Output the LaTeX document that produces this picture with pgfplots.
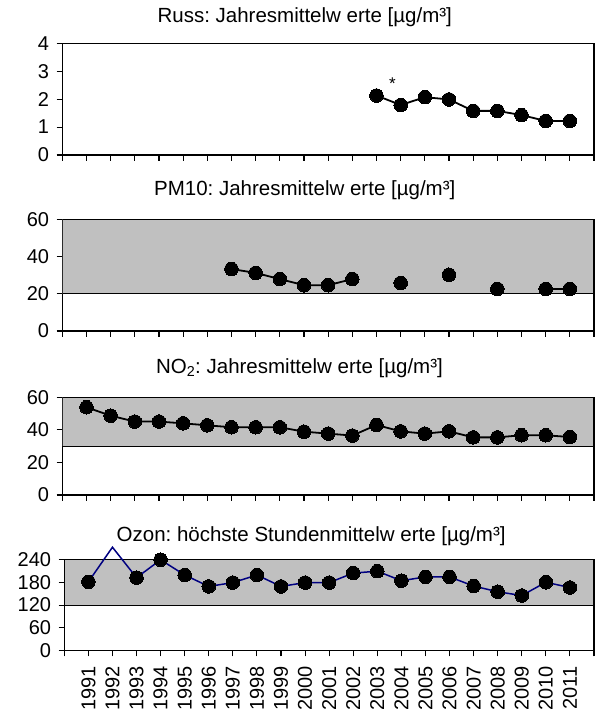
\documentclass[border=0pt]{standalone}
\usepackage{fontspec}
\setmainfont{Liberation Sans}
\usepackage{pgfplots}
\pgfplotsset{compat=1.18}
\frenchspacing
\definecolor{band}{RGB}{192,192,192}
\definecolor{ozline}{RGB}{0,0,128}
\newcommand{\tfont}{\fontsize{20}{22}\selectfont}
\newcommand{\xfont}{\fontsize{20}{22}\selectfont}
\newcommand{\hfont}{\fontsize{20.5}{23}\selectfont\frenchspacing}
\pgfplotsset{
  panel/.style={
    scale only axis, width=531.7pt, anchor=south west,
    xmin=0, xmax=22, xtick={0,...,22}, xticklabels={},
    tick align=outside, xtick pos=bottom, ytick pos=left,
    major tick length=5.7pt,
    axis line style={line width=1.1pt, black},
    tick style={line width=1.1pt, black},
    /pgf/number format/assume math mode=true,
    yticklabel style={font=\tfont, xshift=-4pt},
    title style={font=\hfont, anchor=base},
    axis on top=false,
  },
  dots/.style={black, line width=1.8pt, mark=*, mark size=6.8pt, mark options={solid, fill=black, line width=0pt}},
}
\begin{document}
\begin{tikzpicture}
\path[use as bounding box] (0pt,-711pt) rectangle (595pt,0pt);

% Russ
\begin{axis}[panel, at={(62.3pt,-155pt)}, height=111.7pt,
  ymin=0, ymax=4, ytick={0,1,2,3,4},
  title={Russ: Jahresmittelw erte [µg/m³]},
  title style={at={(rel axis cs:0.456,1)}, yshift=15pt}]
\addplot[dots] coordinates {(13,2.13)(14,1.79)(15,2.07)(16,1.99)(17,1.58)(18,1.58)(19,1.43)(20,1.22)(21,1.22)};
\node[font=\fontsize{17}{19}\selectfont] at (axis cs:13.66,2.55) {*};
\end{axis}

% PM10
\begin{axis}[panel, at={(62.3pt,-331pt)}, height=111.7pt,
  ymin=0, ymax=60, ytick={0,20,40,60}, unbounded coords=jump,
  title={PM10: Jahresmittelw erte [µg/m³]},
  title style={at={(rel axis cs:0.456,1)}, yshift=17.5pt}]
\draw[fill=band, draw=black, line width=1.1pt] (axis cs:0,20) rectangle (axis cs:22,60);
\addplot[dots] coordinates {(7,33.3)(8,31.2)(9,27.9)(10,24.6)(11,24.6)(12,27.9)(13,nan)(14,25.8)(15,nan)(16,30.2)(17,nan)(18,22.6)(19,nan)(20,22.6)(21,22.6)};
\end{axis}

% NO2
\begin{axis}[panel, at={(62.3pt,-495pt)}, height=97.7pt,
  ymin=0, ymax=60, ytick={0,20,40,60},
  title={NO\textsubscript{2}: Jahresmittelw erte [µg/m³]},
  title style={at={(rel axis cs:0.446,1)}, yshift=17.5pt}]
\draw[fill=band, draw=black, line width=1.1pt] (axis cs:0,30) rectangle (axis cs:22,60);
\addplot[dots] coordinates {(1,53.9)(2,48.7)(3,45.1)(4,45.1)(5,44.0)(6,42.8)(7,41.6)(8,41.6)(9,41.6)(10,38.9)(11,37.7)(12,36.5)(13,43.0)(14,39.1)(15,37.7)(16,39.1)(17,35.4)(18,35.4)(19,36.7)(20,36.7)(21,35.6)};
\end{axis}

% Ozon
\begin{axis}[panel, at={(64.3pt,-650.7pt)}, width=529.7pt, height=91.3pt,
  ymin=0, ymax=240, ytick={0,60,120,180,240}, clip=false,
  xticklabels={{},1991,1992,1993,1994,1995,1996,1997,1998,1999,2000,2001,2002,2003,2004,2005,2006,2007,2008,2009,2010,2011,{}},
  xticklabel style={font=\xfont, rotate=90, anchor=east, xshift=-6.5pt},
  title={Ozon: höchste Stundenmittelw erte [µg/m³]},
  title style={at={(rel axis cs:0.466,1)}, yshift=12pt}]
\draw[fill=band, draw=black, line width=1.1pt] (axis cs:0,120) rectangle (axis cs:22,240);
\addplot[ozline, line width=1.5pt, mark=none] coordinates {(1,181)(2,272)(3,192)(4,239)(5,199)(6,169)(7,179)(8,199)(9,169)(10,179)(11,179)(12,204)(13,209)(14,184)(15,194)(16,194)(17,170)(18,155)(19,145)(20,180)(21,166)};
\addplot[only marks, mark=*, mark size=6.8pt, mark options={fill=black, draw=black, line width=0pt}] coordinates {(1,181)(3,192)(4,239)(5,199)(6,169)(7,179)(8,199)(9,169)(10,179)(11,179)(12,204)(13,209)(14,184)(15,194)(16,194)(17,170)(18,155)(19,145)(20,180)(21,166)};
\end{axis}
\end{tikzpicture}
\end{document}
